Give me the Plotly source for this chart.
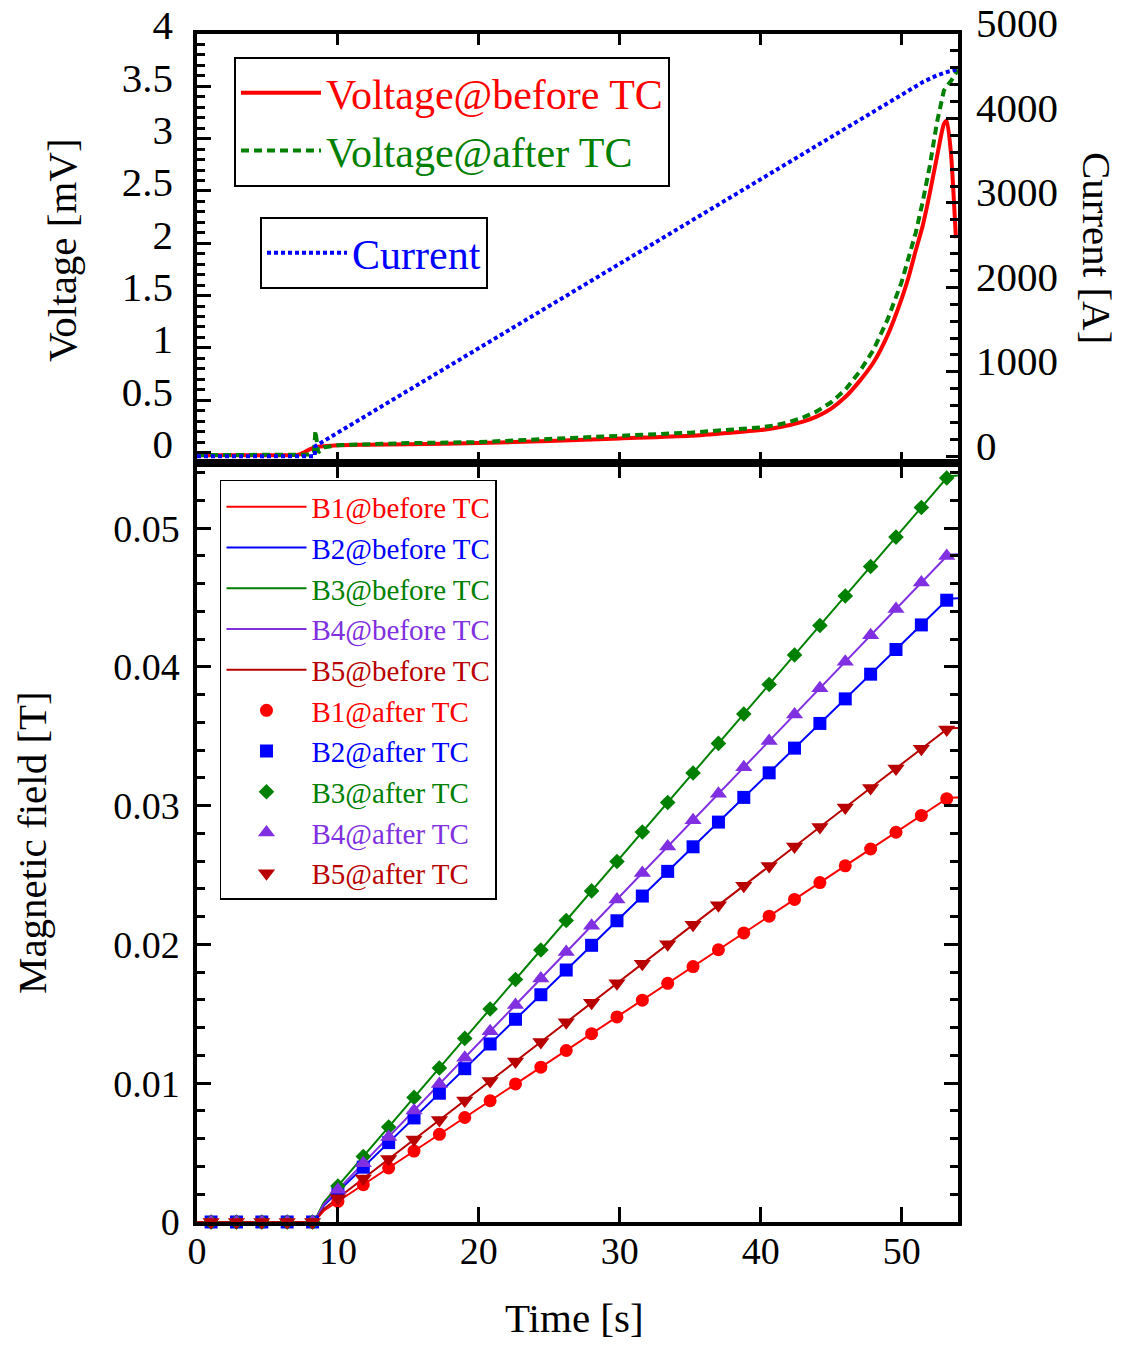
import plotly.graph_objects as go

# ---------------- top panel: coil voltage and transport current ----------------
t_v_before = [0, 2, 4, 6, 7.2, 8.0, 8.4, 9, 10, 12, 15, 20, 25, 30, 35, 40, 41, 42, 43, 44, 45,
              46, 47, 48, 49, 50, 50.5, 51, 51.5, 52, 52.5, 53.0, 53.2, 53.5, 53.85]
v_before = [-0.025, -0.025, -0.025, -0.025, -0.02, 0.03, 0.05, 0.06, 0.07, 0.075, 0.08,
            0.09, 0.11, 0.135, 0.16, 0.215, 0.235, 0.26, 0.295, 0.345, 0.42, 0.53, 0.68,
            0.86, 1.12, 1.47, 1.68, 1.93, 2.17, 2.48, 2.82, 3.14, 3.17, 2.86, 2.05]

t_v_after = [0, 2, 4, 6, 7.2, 8.0, 8.3, 8.4, 8.6, 9, 10, 12, 15, 20, 25, 30, 35, 40, 41, 42, 43,
             44, 45, 46, 47, 48, 49, 50, 50.5, 51, 51.5, 52, 52.5, 53.0, 53.2, 53.5, 54]
v_after = [-0.025, -0.025, -0.025, -0.025, -0.025, -0.02, 0.0, 0.21, 0.0, 0.05, 0.07,
           0.08, 0.09, 0.10, 0.13, 0.16, 0.19, 0.24, 0.26, 0.29, 0.335, 0.395, 0.48, 0.60,
           0.77, 0.98, 1.27, 1.63, 1.86, 2.10, 2.40, 2.74, 3.15, 3.46, 3.50, 3.55, 3.66]

t_current = [0, 8.35, 8.4, 10, 20, 30, 40, 50, 51.5, 52.5, 53.3, 54]
current = [0, 0, 120, 280, 1285, 2285, 3285, 4285, 4430, 4510, 4555, 4580]

# ---------------- bottom panel: magnetic field at five probes ----------------
t_b_line = [0, 8.3, 9.0, 12, 18, 24, 30, 36, 42, 48, 53.3, 54]
b1_before = [0, 0, 0.00081, 0.00282, 0.00685, 0.01089, 0.01492, 0.01895, 0.02298, 0.02701, 0.03058, 0.03060]
b2_before = [0, 0, 0.00118, 0.00415, 0.01007, 0.01599, 0.02191, 0.02783, 0.03376, 0.03968, 0.04491, 0.04495]
b3_before = [0, 0, 0.00142, 0.00496, 0.01205, 0.01913, 0.02622, 0.03330, 0.04039, 0.04748, 0.05374, 0.05380]
b4_before = [0, 0, 0.00127, 0.00444, 0.01078, 0.01712, 0.02347, 0.02981, 0.03615, 0.04249, 0.04809, 0.04813]
b5_before = [0, 0, 0.00094, 0.00328, 0.00798, 0.01267, 0.01736, 0.02205, 0.02674, 0.03144, 0.03558, 0.03561]

t_b_pts = [1.0, 2.8, 4.6, 6.4, 8.2, 10.0, 11.8, 13.6, 15.4, 17.2, 19.0, 20.8, 22.6, 24.4, 26.2,
           28.0, 29.8, 31.6, 33.4, 35.2, 37.0, 38.8, 40.6, 42.4, 44.2, 46.0, 47.8, 49.6, 51.4, 53.2]
b1_after = [0, 0, 0, 0, 0, 0.00148, 0.00269, 0.00390, 0.00511, 0.00632, 0.00753, 0.00874,
            0.00995, 0.01116, 0.01236, 0.01357, 0.01478, 0.01599, 0.01720, 0.01841, 0.01962,
            0.02083, 0.02204, 0.02325, 0.02446, 0.02567, 0.02688, 0.02809, 0.02930, 0.03051]
b2_after = [0, 0, 0, 0, 0, 0.00217, 0.00395, 0.00572, 0.00750, 0.00928, 0.01105, 0.01283,
            0.01461, 0.01638, 0.01816, 0.01994, 0.02171, 0.02349, 0.02527, 0.02704, 0.02882,
            0.03060, 0.03237, 0.03415, 0.03593, 0.03770, 0.03948, 0.04126, 0.04303, 0.04481]
b3_after = [0, 0, 0, 0, 0, 0.00260, 0.00472, 0.00685, 0.00898, 0.01110, 0.01323, 0.01535,
            0.01748, 0.01960, 0.02173, 0.02386, 0.02598, 0.02811, 0.03023, 0.03236, 0.03449,
            0.03661, 0.03874, 0.04086, 0.04299, 0.04511, 0.04724, 0.04936, 0.05149, 0.05362]
b4_after = [0, 0, 0, 0, 0, 0.00233, 0.00423, 0.00613, 0.00803, 0.00994, 0.01184, 0.01374,
            0.01564, 0.01755, 0.01945, 0.02135, 0.02325, 0.02516, 0.02706, 0.02896, 0.03086,
            0.03277, 0.03467, 0.03657, 0.03847, 0.04038, 0.04228, 0.04418, 0.04609, 0.04799]
b5_after = [0, 0, 0, 0, 0, 0.00172, 0.00313, 0.00454, 0.00594, 0.00735, 0.00876, 0.01017,
            0.01157, 0.01298, 0.01439, 0.01580, 0.01720, 0.01861, 0.02002, 0.02143, 0.02283,
            0.02424, 0.02565, 0.02706, 0.02846, 0.02987, 0.03128, 0.03269, 0.03410, 0.03550]

probe_names = ["B1", "B2", "B3", "B4", "B5"]
probe_colors = ["#FF0000", "#0000FF", "#008000", "#8030E0", "#B80000"]
probe_symbols = ["circle", "square", "diamond", "triangle-up", "triangle-down"]
probe_sizes = [13, 13, 12, 15, 15]

FONT = "Liberation Serif"


def colored(text, color):
    return f'<span style="color:{color}">{text}</span>'


fig = go.Figure()

# voltage traces (left axis of the top panel)
fig.add_trace(go.Scatter(
    x=t_v_before, y=v_before, mode="lines", xaxis="x2", yaxis="y2",
    line=dict(color="#FF0000", width=4, shape="spline", smoothing=0.6),
    name=colored("Voltage@before TC", "#FF0000"), legend="legend"))
fig.add_trace(go.Scatter(
    x=t_v_after, y=v_after, mode="lines", xaxis="x2", yaxis="y2",
    line=dict(color="#008000", width=4, dash="8px,5px"),
    name=colored("Voltage@after TC", "#008000"), legend="legend"))
# current (right axis of the top panel)
fig.add_trace(go.Scatter(
    x=t_current, y=current, mode="lines", xaxis="x2", yaxis="y3",
    line=dict(color="#0000FF", width=4, dash="4px,3px"),
    name=colored("Current", "#0000FF"), legend="legend2"))

# magnetic field before TC as lines
b_before = [b1_before, b2_before, b3_before, b4_before, b5_before]
for name, col, vals in zip(probe_names, probe_colors, b_before):
    fig.add_trace(go.Scatter(
        x=t_b_line, y=vals, mode="lines", xaxis="x", yaxis="y",
        line=dict(color=col, width=2), cliponaxis=False,
        name=colored(f"{name}@before TC", col), legend="legend3"))

# magnetic field after TC as markers
b_after = [b1_after, b2_after, b3_after, b4_after, b5_after]
for name, col, sym, sz, vals in zip(probe_names, probe_colors, probe_symbols, probe_sizes, b_after):
    fig.add_trace(go.Scatter(
        x=t_b_pts, y=vals, mode="markers", xaxis="x", yaxis="y",
        marker=dict(color=col, symbol=sym, size=sz, line=dict(width=0)),
        cliponaxis=False,
        name=colored(f"{name}@after TC", col), legend="legend3"))

axis_common = dict(
    showline=True, linecolor="black", linewidth=3.5,
    ticks="inside", tickcolor="black", tickwidth=3,
    showgrid=False, zeroline=False, automargin=False,
)
bottom_font = dict(family=FONT, size=38, color="black")
top_font = dict(family=FONT, size=41, color="black")

fig.update_layout(
    width=1126, height=1347,
    margin=dict(l=197, r=168, t=34, b=125, autoexpand=False),
    paper_bgcolor="white", plot_bgcolor="white",
    font=dict(family=FONT, color="black"),
    showlegend=True,
    # bottom panel axes
    xaxis=dict(axis_common, domain=[0, 1], range=[0, 54], dtick=10, ticklen=15,
               mirror="ticks", anchor="y", ticklabelstandoff=-7, tickfont=bottom_font),
    yaxis=dict(axis_common, domain=[0, 0.6389], range=[0, 0.0547], dtick=0.01,
               ticklen=14, mirror="ticks", anchor="x", tickfont=bottom_font,
               minor=dict(dtick=0.002, ticklen=8, tickwidth=2.5, ticks="inside",
                          tickcolor="black"),
               ticklabelstandoff=6),
    # top panel axes
    xaxis2=dict(axis_common, domain=[0, 1], range=[0, 54], dtick=10, ticklen=11,
                mirror="ticks", anchor="y2", showticklabels=False),
    yaxis2=dict(axis_common, domain=[0.6389, 1], range=[-0.1, 4], dtick=0.5,
                ticklen=14, anchor="x2", tickfont=top_font,
                minor=dict(dtick=0.1, ticklen=8, tickwidth=2.5, ticks="inside",
                           tickcolor="black"),
                ticklabelstandoff=12, ticklabelshift=-9),
    yaxis3=dict(axis_common, overlaying="y2", side="right", range=[-80, 5000],
                dtick=1000, ticklen=12, anchor="x2", tickfont=top_font,
                minor=dict(dtick=200, ticklen=8, tickwidth=2.5, ticks="inside",
                           tickcolor="black"),
                ticklabelstandoff=6, ticklabelshift=-11),
    legend=dict(x=0.0486, y=0.9806, xanchor="left", yanchor="top",
                bordercolor="black", borderwidth=2, bgcolor="white",
                font=dict(family=FONT, size=42), itemwidth=80,
                tracegroupgap=0),
    legend2=dict(x=0.0828, y=0.846, xanchor="left", yanchor="top",
                 bordercolor="black", borderwidth=2, bgcolor="white",
                 font=dict(family=FONT, size=42), itemwidth=80),
    legend3=dict(x=0.0302, y=0.6246, xanchor="left", yanchor="top",
                 bordercolor="black", borderwidth=1.5, bgcolor="white",
                 font=dict(family=FONT, size=29), itemwidth=80,
                 tracegroupgap=0),
    annotations=[
        dict(text="Voltage [mV]", xref="paper", yref="paper", x=-0.1774, y=0.8182,
             xanchor="center", yanchor="middle",
             textangle=-90, showarrow=False, font=dict(family=FONT, size=41)),
        dict(text="Current [A]", xref="paper", yref="paper", x=1.1827, y=0.8199,
             xanchor="center", yanchor="middle",
             textangle=90, showarrow=False, font=dict(family=FONT, size=41)),
        dict(text="Magnetic field [T]", xref="paper", yref="paper", x=-0.2168, y=0.319,
             xanchor="center", yanchor="middle",
             textangle=-90, showarrow=False, font=dict(family=FONT, size=41)),
        dict(text="Time [s]", xref="paper", yref="paper", x=0.4967, y=-0.0808,
             xanchor="center", yanchor="middle",
             showarrow=False, font=dict(family=FONT, size=41)),
    ],
)

fig.write_html("out.html")
